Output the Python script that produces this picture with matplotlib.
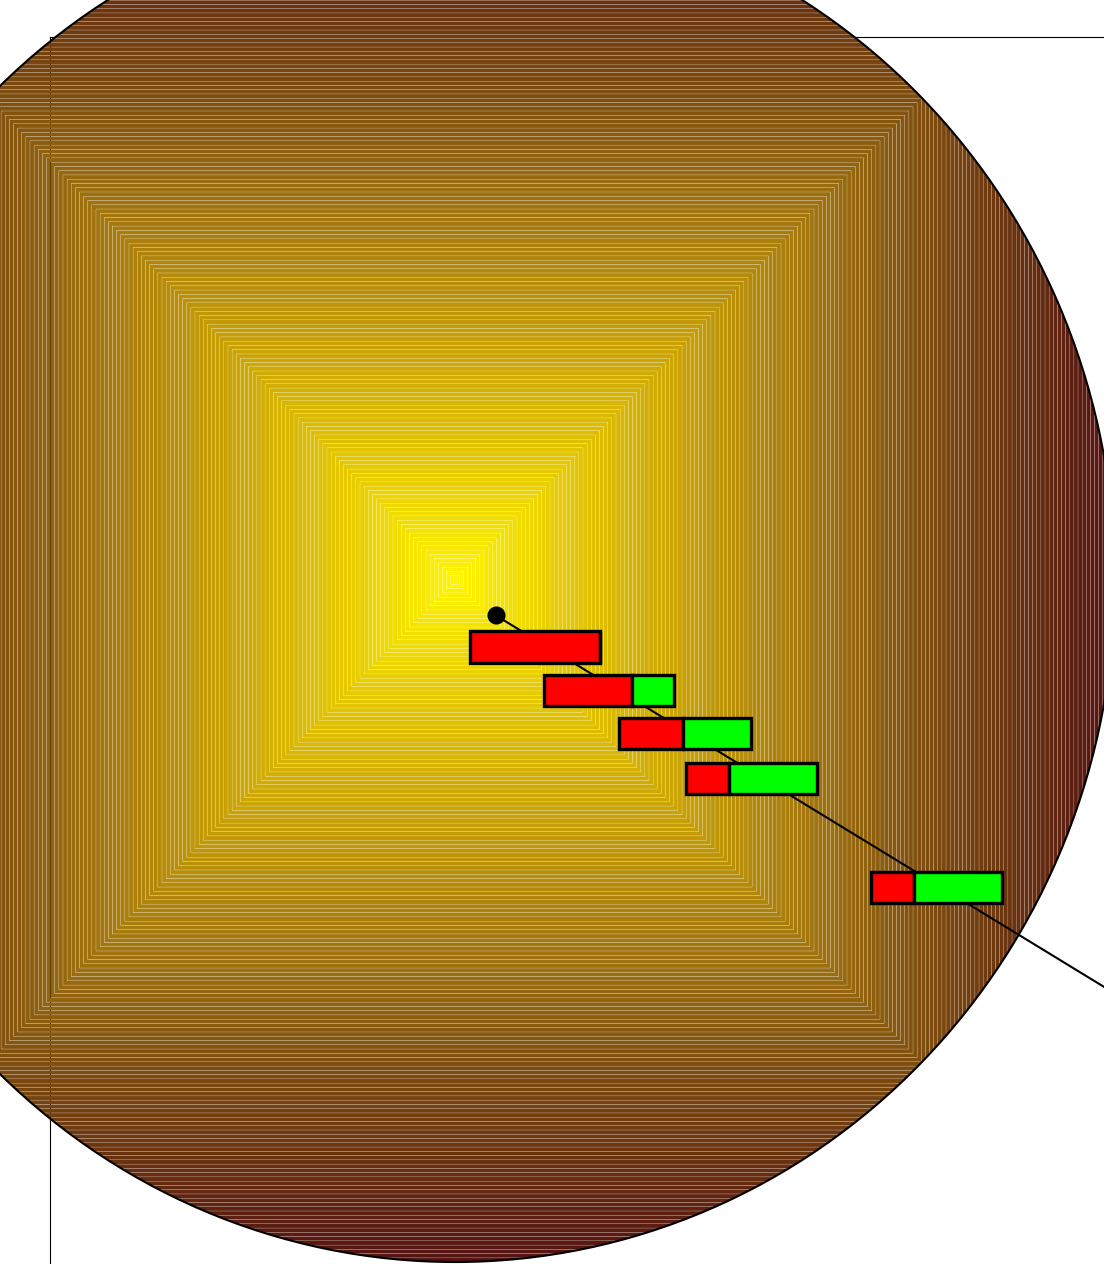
import numpy as np
import matplotlib
matplotlib.use("Agg")
import matplotlib.pyplot as plt
from matplotlib.patches import Circle, PathPatch
from matplotlib.path import Path
from matplotlib.colors import LinearSegmentedColormap

# stacked bars placed along the trend line (data units, the disc has radius 1)
bar_left = [0.022, 0.135, 0.249, 0.350, 0.631]
red_part = [0.198, 0.133, 0.097, 0.065, 0.065]
green_part = [0.000, 0.064, 0.102, 0.133, 0.133]
bar_y = [-0.098, -0.162, -0.225, -0.291, -0.451]
bar_h = 0.046

# trend line, starts at the dot
trend_x = [0.062, 1.05]
trend_y = [-0.052, -0.636]

# colour ramp from centre of the disc out to its rim
ramp_pos = [0.0, 0.15, 0.35, 0.55, 0.72, 0.85, 1.0]
ramp_rgb = [(255, 245, 0), (232, 205, 0), (200, 160, 5), (160, 115, 15),
            (125, 75, 15), (105, 50, 15), (85, 18, 18)]

cmap = LinearSegmentedColormap.from_list(
    "disc", [(p, tuple(c / 255 for c in rgb)) for p, rgb in zip(ramp_pos, ramp_rgb)])

fig = plt.figure(figsize=(11.04, 12.64), dpi=100, facecolor="white")
ax = fig.add_axes([50 / 1104, 0, 1054 / 1104, 1227 / 1264])
ax.set_xlim(-0.6136, 0.9833)
ax.set_ylim(-1.0029, 0.7962)
ax.set_xticks([])
ax.set_yticks([])
ax.spines["right"].set_visible(False)
ax.spines["bottom"].set_visible(False)

# disc filled with square rings (small gaps leave light seams), clipped to the circle
disc = Circle((0, 0), 1.0, transform=ax.transData, facecolor="none")
levels = np.linspace(0, 1.0, 161)
gap = 0.0004
codes = ([Path.MOVETO] + [Path.LINETO] * 3 + [Path.CLOSEPOLY]) * 2
for i in range(len(levels) - 1):
    r_in, r_out = levels[i], levels[i + 1]
    last = i == len(levels) - 2
    if last:
        r_out = 1.1
    if i > 0:
        r_in += gap
    outer = [(-r_out, -r_out), (r_out, -r_out), (r_out, r_out), (-r_out, r_out), (-r_out, -r_out)]
    inner = [(-r_in, -r_in), (-r_in, r_in), (r_in, r_in), (r_in, -r_in), (-r_in, -r_in)]
    shade = 1.0 if last else (levels[i] + levels[i + 1]) / 2
    ring = PathPatch(Path(outer + inner, codes), facecolor=cmap(shade),
                     edgecolor="none", zorder=3)
    ring.set_snap(False)
    ax.add_patch(ring)
    ring.set_clip_path(disc)
    ring.set_clip_box(fig.bbox)

rim = Circle((0, 0), 1.0, facecolor="none", edgecolor="black", linewidth=1.5,
             zorder=4, clip_on=False)
ax.add_patch(rim)

ax.plot(trend_x, trend_y, color="black", linewidth=1.5, zorder=5)
ax.plot(trend_x[0], trend_y[0], "o", color="black", markersize=12, zorder=6)

ax.barh(bar_y, red_part, height=bar_h, left=bar_left, color="#ff0000",
        edgecolor="black", linewidth=2.4, zorder=7)
green_left = [l + r for l, r in zip(bar_left, red_part)]
ax.barh(bar_y, green_part, height=bar_h, left=green_left, color="#00ff00",
        edgecolor="black", linewidth=2.4, zorder=7)

plt.savefig("out.png", dpi=100, facecolor="white")
